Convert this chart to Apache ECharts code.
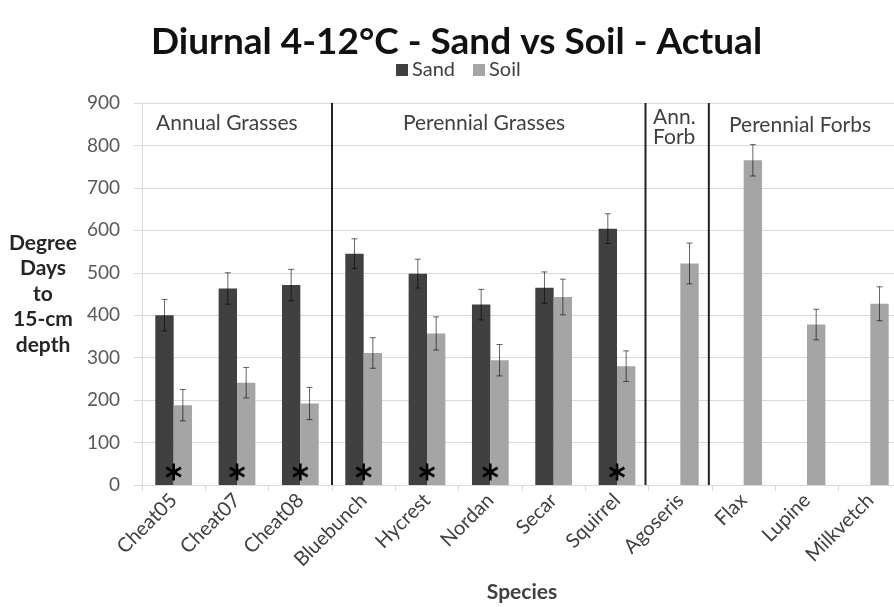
<!DOCTYPE html>
<html>
<head>
<meta charset="utf-8">
<script src="https://cdn.jsdelivr.net/npm/echarts@6/dist/echarts.min.js"></script>
<style>
  html, body { margin: 0; padding: 0; background: #fff; }
  #chart { width: 894px; height: 607px; }
</style>
</head>
<body>
<div id="chart"></div>
<script>
// Species on the category axis
var species = ['Cheat05', 'Cheat07', 'Cheat08', 'Bluebunch', 'Hycrest', 'Nordan',
               'Secar', 'Squirrel', 'Agoseris', 'Flax', 'Lupine', 'Milkvetch'];
// Degree days to 15-cm depth (mean) and error half-widths
var sandValues = [400, 463, 471, 545, 498, 425, 465, 604, null, null, null, null];
var sandErrors = [37, 37, 37, 35, 34, 36, 37, 35, null, null, null, null];
var soilValues = [188, 241, 192, 311, 357, 294, 443, 280, 522, 765, 378, 427];
var soilErrors = [37, 36, 38, 36, 39, 37, 42, 36, 48, 37, 36, 40];
// Significant sand/soil difference
var significant = [1, 1, 1, 1, 1, 1, 0, 1, 0, 0, 0, 0];
// Group separators (band boundaries) and group captions
var dividerAt = [3, 7.95, 8.95];
var groupNames = ['Annual Grasses', 'Perennial Grasses', 'Ann.\nForb', 'Perennial Forbs'];
var groupX = [1.34, 5.4, 8.07, 10.39];
var groupY = [852, 852, 843, 847];
var groupAlign = ['center', 'center', 'left', 'center'];
var yTicks = [0, 100, 200, 300, 400, 500, 600, 700, 800, 900];

var FONT = 'Lato';
var SAND = '#404040', SOIL = '#a5a5a5';
var GROUP_FRACTION = 0.58;   // 1 - barCategoryGap

function errorData(values, errors, side) {
  var out = [];
  for (var i = 0; i < values.length; i++) {
    if (values[i] != null && errors[i] != null) {
      out.push([i, values[i] - errors[i], values[i] + errors[i], side]);
    }
  }
  return out;
}

function renderError(params, api) {
  var band = api.size([1, 0])[0];
  var off = api.value(3) * band * GROUP_FRACTION / 4;
  var lo = api.coord([api.value(0), api.value(1)]);
  var hi = api.coord([api.value(0), api.value(2)]);
  var x = lo[0] + off;
  var cap = 3;
  var style = { stroke: 'rgba(0,0,0,0.6)', lineWidth: 1 };
  return {
    type: 'group',
    children: [
      { type: 'line', shape: { x1: x, y1: lo[1], x2: x, y2: hi[1] }, style: style },
      { type: 'line', shape: { x1: x - cap, y1: hi[1], x2: x + cap, y2: hi[1] }, style: style },
      { type: 'line', shape: { x1: x - cap, y1: lo[1], x2: x + cap, y2: lo[1] }, style: style }
    ]
  };
}

var starData = [];
significant.forEach(function (s, i) { if (s) starData.push([i, 0]); });

function renderStar(params, api) {
  var p = api.coord([api.value(0), api.value(1)]);
  var cx = p[0], cy = p[1] - 13, r = 8.5;
  var kids = [];
  [90, 30, -30].forEach(function (deg) {
    var a = deg * Math.PI / 180;
    var dx = Math.cos(a) * r, dy = Math.sin(a) * r;
    kids.push({ type: 'line', shape: { x1: cx - dx, y1: cy - dy, x2: cx + dx, y2: cy + dy },
                style: { stroke: '#000', lineWidth: 2.6 } });
  });
  return { type: 'group', children: kids };
}

var dividerData = dividerAt.map(function (v) { return [v, 0]; });
function renderDivider(params, api) {
  var a = api.coord([api.value(0), 0]);
  var b = api.coord([api.value(0), 900]);
  return { type: 'line', shape: { x1: a[0], y1: a[1], x2: b[0], y2: b[1] },
           style: { stroke: '#222', lineWidth: 2 } };
}

var groupData = groupNames.map(function (n, i) { return [groupX[i], groupY[i]]; });
function renderGroup(params, api) {
  var i = params.dataIndex;
  var p = api.coord([api.value(0), api.value(1)]);
  return { type: 'text', x: p[0], y: p[1],
           style: { text: groupNames[i], fill: '#404040',
                    font: '21px ' + FONT, align: groupAlign[i], verticalAlign: 'middle',
                    lineHeight: 20 } };
}

var chart = echarts.init(document.getElementById('chart'), null, { renderer: 'canvas' });
chart.setOption({
  animation: false,
  backgroundColor: '#fff',
  title: {
    text: 'Diurnal 4-12°C - Sand vs Soil - Actual',
    left: 146, top: 19,
    textStyle: { fontFamily: FONT, fontWeight: 'bold', fontSize: 37, color: '#111' }
  },
  legend: {
    top: 55, left: 391,
    itemWidth: 12, itemHeight: 12, itemGap: 18,
    icon: 'rect',
    textStyle: { fontFamily: FONT, fontSize: 20, color: '#404040', padding: [0, 0, 0, -1] },
    data: ['Sand', 'Soil']
  },
  grid: { left: 142, right: -8, top: 103, bottom: 122, containLabel: false, outerBoundsMode: 'none' },
  xAxis: [{
    type: 'category', data: species,
    axisLine: { lineStyle: { color: '#d9d9d9' } },
    axisTick: { show: true, length: 6, lineStyle: { color: '#d9d9d9' }, alignWithLabel: false },
    axisLabel: { rotate: 45, margin: 12, color: '#404040', fontFamily: FONT, fontSize: 20, interval: 0 },
    name: 'Species', nameLocation: 'middle', nameGap: 97,
    nameTextStyle: { fontFamily: FONT, fontWeight: 'bold', fontSize: 21, color: '#404040' }
  }, {
    type: 'value', min: 0, max: 12, show: false
  }],
  yAxis: {
    type: 'value', min: 0, max: 900, interval: 100,
    axisLine: { show: true, lineStyle: { color: '#d9d9d9' } },
    axisTick: { show: true, length: 8, lineStyle: { color: '#d9d9d9' } },
    splitLine: { lineStyle: { color: '#d9d9d9' } },
    axisLabel: { margin: 22, color: '#595959', fontFamily: FONT, fontSize: 19,
                 formatter: function (v) { return yTicks.indexOf(v) >= 0 ? String(v) : ''; } },
    name: 'Degree\nDays\nto\n15-cm\ndepth', nameLocation: 'middle', nameRotate: 0, nameGap: 99,
    nameTextStyle: { fontFamily: FONT, fontWeight: 'bold', fontSize: 21, color: '#262626',
                     align: 'center', lineHeight: 25.5 }
  },
  series: [
    { name: 'Sand', type: 'bar', data: sandValues, barGap: '0%', barCategoryGap: '42%',
      itemStyle: { color: SAND } },
    { name: 'Soil', type: 'bar', data: soilValues, barGap: '0%', barCategoryGap: '42%',
      itemStyle: { color: SOIL } },
    { type: 'custom', renderItem: renderError, data: errorData(sandValues, sandErrors, -1), z: 5 },
    { type: 'custom', renderItem: renderError, data: errorData(soilValues, soilErrors, 1), z: 5 },
    { type: 'custom', renderItem: renderStar, data: starData, z: 6 },
    { type: 'custom', renderItem: renderDivider, data: dividerData, xAxisIndex: 1, z: 7 },
    { type: 'custom', renderItem: renderGroup, data: groupData, xAxisIndex: 1, z: 7 }
  ]
});
</script>
</body>
</html>
